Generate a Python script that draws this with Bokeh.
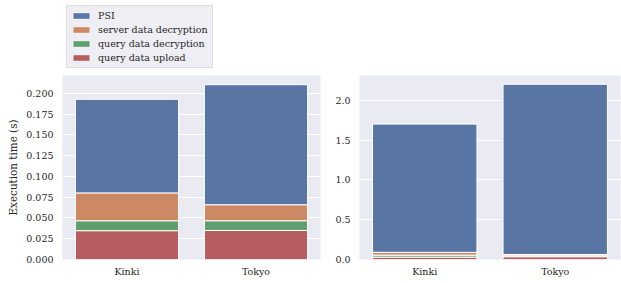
from bokeh.plotting import figure
from bokeh.models import (ColumnDataSource, FactorRange, Range1d, Legend, LegendItem,
                          FixedTicker, NumeralTickFormatter)
from bokeh.layouts import row, column
from bokeh.embed import file_html
from bokeh.resources import INLINE

categories = ["Kinki", "Tokyo"]
series_names = ["query data upload", "query data decryption", "server data decryption", "PSI"]
colors = ["#B55D60", "#5F9E6E", "#CC8963", "#5975A4"]

# left panel (seconds)
left_upload = [0.0347, 0.0350]
left_qdec = [0.0120, 0.0117]
left_sdec = [0.0335, 0.0192]
left_psi = [0.1126, 0.1445]

# right panel (seconds)
right_upload = [0.030, 0.035]
right_qdec = [0.025, 0.012]
right_sdec = [0.035, 0.016]
right_psi = [1.610, 2.137]

left_ticks = [0, 0.025, 0.05, 0.075, 0.1, 0.125, 0.15, 0.175, 0.2]
right_ticks = [0, 0.5, 1.0, 1.5, 2.0]

FONT = "DejaVu Serif"
TXT = "#262626"
BG = "#EAEAF2"


def make_fig(width, ymax, min_left, min_right, ticks, fmt):
    p = figure(x_range=FactorRange(*categories, range_padding=0), y_range=Range1d(0, ymax),
               width=width, height=208, output_backend="svg", toolbar_location=None,
               min_border_left=min_left, min_border_right=min_right,
               min_border_top=0, min_border_bottom=24)
    p.background_fill_color = BG
    p.border_fill_color = "white"
    p.outline_line_color = None
    p.xgrid.visible = False
    p.ygrid.grid_line_color = "white"
    p.ygrid.grid_line_width = 1
    for ax in (p.xaxis, p.yaxis):
        ax.axis_line_color = None
        ax.major_tick_line_color = None
        ax.minor_tick_line_color = None
        ax.major_tick_out = 0
        ax.major_tick_in = 0
        ax.minor_tick_out = 0
        ax.minor_tick_in = 0
        ax.major_label_text_font = FONT
        ax.major_label_text_font_size = "9.5px"
        ax.major_label_text_color = TXT
    p.xaxis.major_label_standoff = 6
    p.yaxis.major_label_standoff = 9
    p.yaxis.ticker = FixedTicker(ticks=ticks)
    p.yaxis.formatter = NumeralTickFormatter(format=fmt)
    return p


left_src = ColumnDataSource(dict(cat=categories, upload=left_upload, qdec=left_qdec,
                                 sdec=left_sdec, psi=left_psi))
right_src = ColumnDataSource(dict(cat=categories, upload=right_upload, qdec=right_qdec,
                                  sdec=right_sdec, psi=right_psi))

p1 = make_fig(330, 0.2215, 62, 10, left_ticks, "0.000")
p1.yaxis.axis_label = "Execution time (s)"
p1.yaxis.axis_label_text_font = FONT
p1.yaxis.axis_label_text_font_style = "normal"
p1.yaxis.axis_label_text_font_size = "10.4px"
p1.yaxis.axis_label_text_color = TXT
p1.yaxis.axis_label_standoff = 4

p1.vbar_stack(["upload", "qdec", "sdec", "psi"], x="cat", width=0.8, source=left_src,
              fill_color=colors, line_color="white", line_width=1)

p2 = make_fig(291, 2.31, 29, 1, right_ticks, "0.0")
p2.vbar_stack(["upload", "qdec", "sdec", "psi"], x="cat", width=0.8, source=right_src,
              fill_color=colors, line_color="white", line_width=1)

# legend figure: swatch renderers sit outside the visible range, only the legend shows
lf = figure(width=330, height=75, output_backend="svg", toolbar_location=None,
            x_range=Range1d(0, 1), y_range=Range1d(0, 1),
            min_border_left=66, min_border_right=0, min_border_top=5, min_border_bottom=0)
lf.axis.visible = False
lf.grid.visible = False
lf.outline_line_color = None
lf.background_fill_color = "white"
lf.border_fill_color = "white"
hidden = ColumnDataSource(dict(x=[-10], top=[-10]))
swatches = [lf.vbar(x="x", top="top", width=0.1, source=hidden, fill_color=c,
                    line_color=None) for c in colors]

items = [LegendItem(label=series_names[i], renderers=[swatches[i]]) for i in (3, 2, 1, 0)]
legend = Legend(items=items, location="top_left", margin=0, padding=4, spacing=3,
                label_text_font=FONT, label_text_font_size="9.5px", label_text_color=TXT,
                glyph_width=20, glyph_height=7, label_height=11, label_standoff=7,
                background_fill_color="#EEEEF4", background_fill_alpha=1,
                border_line_color="#CCCCCC", border_line_width=1)
lf.add_layout(legend, "center")

layout = column(lf, row(p1, p2))
open("out.html", "w").write(file_html(layout, INLINE))
